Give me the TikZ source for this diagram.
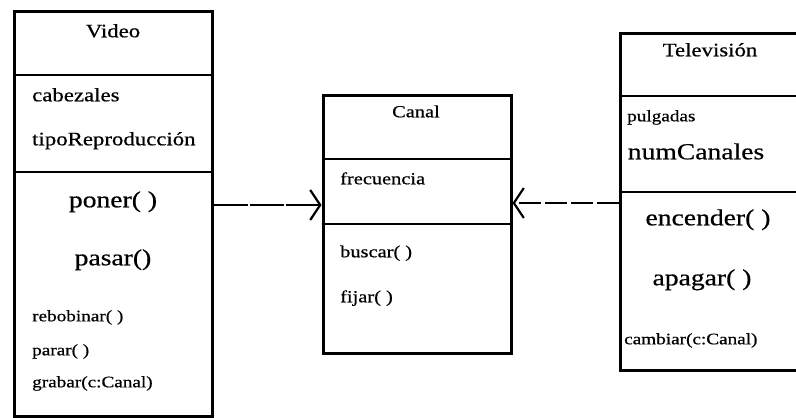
\documentclass[tikz,border=0pt]{standalone}
\usepackage{fontspec}
\setmainfont{Liberation Serif}[FakeStretch=1.2, FakeBold=0.6]
\usetikzlibrary{arrows.meta}
\tikzset{
  cls/.style={draw, line width=3pt, inner sep=0pt},
  sep/.style={line width=2.8pt},
  lt/.style={anchor=mid west, inner sep=0pt},
  ct/.style={anchor=mid, inner sep=0pt},
  dep/.style={line width=2.4pt,
    -{Straight Barb[length=10pt,width=30pt,line width=2.2pt]}},
  depL/.style={dep, dash pattern=on 34pt off 2pt},
  depR/.style={dep, dash pattern=on 22pt off 4pt},
  fA/.style={font=\fontsize{19}{19}\selectfont},
  fB/.style={font=\fontsize{17}{17}\selectfont},
  fC/.style={font=\fontsize{16}{16}\selectfont},
  fD/.style={font=\fontsize{23}{23}\selectfont},
}
\begin{document}
\begin{tikzpicture}[x=1pt,y=-1pt]
\useasboundingbox (0,0) rectangle (796,418);
% Video
\node[cls, minimum width=198pt, minimum height=405pt] (video) at (113,213.5) {};
\draw[sep] (video.west |- 0,75) -- (video.east |- 0,75);
\draw[sep] (video.west |- 0,172) -- (video.east |- 0,172);
\node[ct, fA] (vt) at (113,35) {Video};
\node[lt, fA] (va1) at (32,99) {cabezales};
\node[lt, fA] (va2) at (32,143) {tipoReproducción};
\node[ct, fD] (vm1) at (113,205) {poner( )};
\node[ct, fD] (vm2) at (113,263) {pasar()};
\node[lt, fC] (vm3) at (32,319) {rebobinar( )};
\node[lt, fC] (vm4) at (32,353) {parar( )};
\node[lt, fC] (vm5) at (32,385) {grabar(c:Canal)};
% Canal
\node[cls, minimum width=188pt, minimum height=258pt] (canal) at (417,224) {};
\draw[sep] (canal.west |- 0,159) -- (canal.east |- 0,159);
\draw[sep] (canal.west |- 0,224) -- (canal.east |- 0,224);
\node[ct, fB] (ct) at (416,115) {Canal};
\node[lt, fB] (ca1) at (340,182) {frecuencia};
\node[lt, fB] (cm1) at (340,255) {buscar( )};
\node[lt, fB] (cm2) at (340,300) {fijar( )};
% Television
\node[cls, minimum width=190pt, minimum height=337pt] (tv) at (715,201.5) {};
\draw[sep] (tv.west |- 0,96) -- (tv.east |- 0,96);
\draw[sep] (tv.west |- 0,192) -- (tv.east |- 0,192);
\node[ct, fA] (tt) at (710,54) {Televisión};
\node[lt, fC] (ta1) at (627,119) {pulgadas};
\node[ct, fD] (ta2) at (696,157) {numCanales};
\node[ct, fD] (tm1) at (708,223) {encender( )};
\node[ct, fD] (tm2) at (702,283) {apagar( )};
\node[lt, fC] (tm3) at (624,342) {cambiar(c:Canal)};
% connectors
\draw[depL] (video.east |- 0,205) -- (canal.west |- 0,205);
\draw[depR] (tv.west |- 0,203) -- (canal.east |- 0,203);
\end{tikzpicture}
\end{document}
